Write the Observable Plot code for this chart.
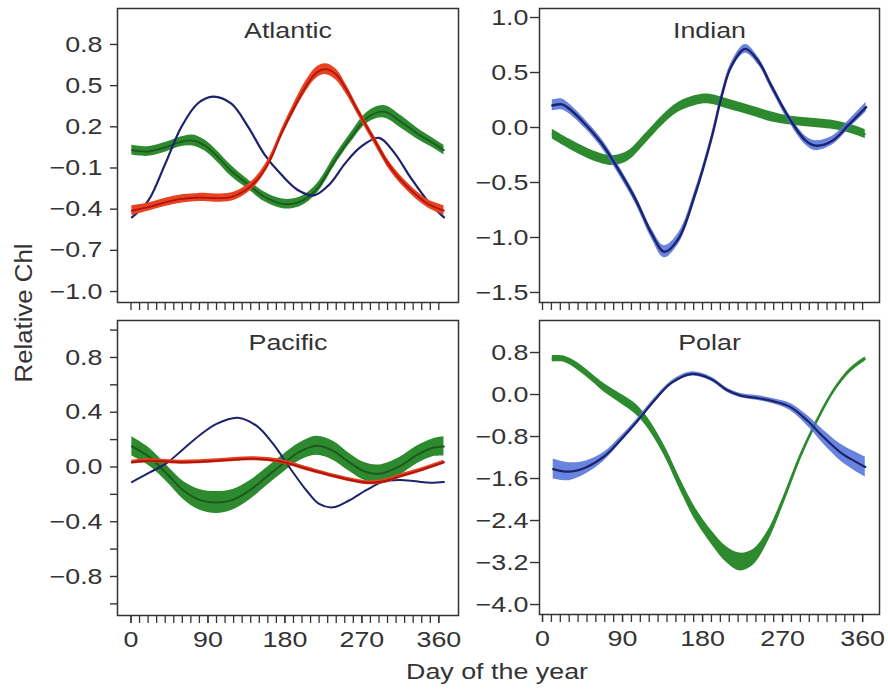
<!DOCTYPE html>
<html><head><meta charset="utf-8">
<script src="https://cdn.jsdelivr.net/npm/d3@7"></script>
<script src="https://cdn.jsdelivr.net/npm/@observablehq/plot@0.6"></script>
<style>
body{margin:0;background:#fff;}
#chart{position:relative;width:888px;height:691px;overflow:hidden;font-family:"Liberation Sans",Arial,Helvetica,sans-serif;color:#333;}
.panel{position:absolute;}
.lbl{position:absolute;font-size:22px;line-height:1;white-space:nowrap;color:#333;}
</style></head><body><div id="chart"></div>
<script>
// ---------- data ----------
const X_MINOR = d3.range(0, 361, 10);
const X_LABELS = [0, 90, 180, 270, 360];
const atlYTicks = [0.8, 0.5, 0.2, -0.1, -0.4, -0.7, -1.0];
const indYTicks = [1.0, 0.5, 0.0, -0.5, -1.0, -1.5];
const pacYTicks = [0.8, 0.4, 0.0, -0.4, -0.8];
const pacYMinor = [1.0, 0.6, 0.2, -0.2, -0.6, -1.0];
const polYTicks = [0.8, 0.0, -0.8, -1.6, -2.4, -3.2, -4.0];

// Atlantic
const atlBlueDay = [1,20,40,59,78,96,117,137,156,176,195,214,232,250,268,290,308,327,347,366];
const atlBlueVal = [-0.46,-0.34,-0.07,0.20,0.37,0.42,0.37,0.20,0.00,-0.15,-0.26,-0.30,-0.22,-0.07,0.05,0.12,0.01,-0.17,-0.34,-0.46];
const atlRedDay = [1,20,40,60,80,100,118,132,147,162,176,190,205,218,228,240,252,265,285,304,327,347,366];
const atlRedVal = [-0.41,-0.385,-0.35,-0.325,-0.315,-0.32,-0.31,-0.27,-0.19,-0.05,0.15,0.33,0.50,0.60,0.62,0.58,0.47,0.32,0.10,-0.10,-0.26,-0.36,-0.41];
const atlRedBand = [0.035,0.03,0.03,0.03,0.03,0.03,0.03,0.03,0.03,0.03,0.03,0.035,0.04,0.04,0.04,0.04,0.035,0.03,0.03,0.03,0.03,0.03,0.035];
const atlGreenDay = [1,20,40,58,72,86,100,117,137,156,176,190,203,219,238,257,277,296,316,335,355,366];
const atlGreenVal = [0.03,0.02,0.05,0.09,0.10,0.065,-0.01,-0.12,-0.22,-0.31,-0.36,-0.36,-0.33,-0.24,-0.05,0.12,0.27,0.31,0.235,0.15,0.075,0.03];
const atlGreenBand = [0.035,0.035,0.035,0.035,0.04,0.04,0.04,0.04,0.035,0.035,0.035,0.035,0.035,0.035,0.035,0.035,0.04,0.045,0.045,0.04,0.035,0.035];

// Indian
const indBlueDay = [11,22,30,48,67,86,105,123,137,153,172,190,202,212,228,243,258,277,296,307,326,345,364];
const indBlueVal = [0.20,0.21,0.17,0.03,-0.15,-0.39,-0.66,-0.97,-1.13,-1.01,-0.60,-0.10,0.30,0.55,0.715,0.60,0.37,0.09,-0.12,-0.165,-0.12,0.03,0.185];
const indBlueBand = [0.05,0.05,0.045,0.04,0.04,0.04,0.04,0.045,0.055,0.05,0.04,0.035,0.035,0.035,0.04,0.035,0.035,0.035,0.04,0.045,0.04,0.04,0.045];
const indGreenDay = [11,30,48,67,82,97,116,135,153,172,186,202,221,240,258,277,296,315,333,352,363];
const indGreenVal = [-0.06,-0.15,-0.225,-0.285,-0.30,-0.255,-0.10,0.065,0.185,0.245,0.26,0.23,0.185,0.14,0.095,0.065,0.048,0.034,0.015,-0.027,-0.06];
const indGreenBand = [0.045,0.045,0.045,0.045,0.045,0.045,0.045,0.045,0.045,0.045,0.045,0.045,0.045,0.045,0.045,0.04,0.04,0.04,0.04,0.04,0.04];

// Pacific
const pacBlueDay = [1,22,42,61,80,100,125,147,166,185,205,220,236,255,275,294,314,333,350,366];
const pacBlueVal = [-0.11,-0.04,0.03,0.13,0.23,0.315,0.36,0.30,0.17,0.00,-0.17,-0.27,-0.295,-0.245,-0.17,-0.11,-0.095,-0.105,-0.115,-0.11];
const pacRedDay = [1,22,60,100,140,165,182,218,257,278,296,316,335,366];
const pacRedVal = [0.035,0.045,0.035,0.045,0.06,0.05,0.03,-0.035,-0.095,-0.115,-0.105,-0.065,-0.03,0.035];
const pacRedBand = [0.015,0.015,0.015,0.015,0.015,0.015,0.015,0.015,0.015,0.015,0.015,0.015,0.015,0.015];
const pacGreenDay = [1,22,42,61,80,100,119,139,158,178,197,217,236,255,272,290,314,335,353,366];
const pacGreenVal = [0.15,0.07,-0.05,-0.17,-0.24,-0.26,-0.24,-0.17,-0.075,0.025,0.11,0.155,0.12,0.035,-0.03,-0.05,0.005,0.09,0.14,0.15];
const pacGreenBand = [0.07,0.065,0.06,0.065,0.075,0.08,0.075,0.07,0.065,0.065,0.065,0.07,0.07,0.065,0.065,0.065,0.065,0.065,0.065,0.07];

// Polar
const polGreenDay = [11,25,40,55,70,88,105,120,138,155,172,190,207,222,237,253,271,290,309,328,346,363];
const polGreenVal = [0.68,0.67,0.53,0.33,0.12,-0.08,-0.28,-0.58,-1.10,-1.72,-2.28,-2.72,-3.05,-3.19,-3.10,-2.72,-2.02,-1.19,-0.50,0.08,0.46,0.68];
const polGreenBand = [0.06,0.06,0.07,0.07,0.08,0.09,0.1,0.1,0.1,0.11,0.12,0.13,0.15,0.17,0.15,0.11,0.08,0.06,0.05,0.04,0.04,0.04];
const polBlueDay = [12,30,50,70,88,107,126,145,167,189,208,223,241,260,279,298,316,335,350,363];
const polBlueVal = [-1.42,-1.47,-1.38,-1.17,-0.86,-0.50,-0.11,0.22,0.39,0.30,0.08,-0.02,-0.065,-0.13,-0.24,-0.50,-0.81,-1.10,-1.26,-1.38];
const polBlueBand = [0.19,0.17,0.12,0.08,0.06,0.05,0.045,0.04,0.04,0.04,0.04,0.04,0.045,0.05,0.07,0.1,0.13,0.16,0.18,0.19];

// ---------- styling ----------
const BLUE_LINE = "#1c226c", BLUE_BAND = "#4e6fd8";
const GREEN_LINE = "#1c5a1e", GREEN_BAND = "#2e8a2e";
const RED_LINE = "#b0140f", RED_BAND = "#e8431f";
const TEXT_SCALE = 1.22;
const FONT = '"Liberation Sans", Arial, Helvetica, sans-serif';

function stretchText(svg, s) {
  svg.querySelectorAll("text").forEach(t => {
    if (!t.textContent) return;
    const tr = t.getAttribute("transform");
    if (tr) t.setAttribute("transform", tr + ` scale(${s},1)`);
    else {
      const x = +t.getAttribute("x") || 0, y = +t.getAttribute("y") || 0;
      t.setAttribute("transform", `translate(${x},${y}) scale(${s},1) translate(${-x},${-y})`);
    }
  });
}

function makePanel(cfg) {
  const marks = [];
  for (const s of cfg.series) {
    const rows = s.day.map((d, i) => ({
      day: d, v: s.val[i],
      lo: s.val[i] - (s.band ? s.band[i] : 0),
      hi: s.val[i] + (s.band ? s.band[i] : 0)
    }));
    if (s.band) marks.push(Plot.areaY(rows, {x: "day", y1: "lo", y2: "hi", fill: s.fill, fillOpacity: s.fillOpacity ?? 1, curve: "catmull-rom"}));
    marks.push(Plot.line(rows, {x: "day", y: "v", stroke: s.stroke, strokeWidth: s.width, curve: "catmull-rom"}));
  }
  marks.push(Plot.frame({stroke: "#333", strokeWidth: 1.5}));
  if (cfg.yMinor) marks.push(Plot.axisY(cfg.yMinor, {tickSize: cfg.tickSize, tickFormat: () => "", label: null, strokeWidth: 1.4}));
  marks.push(Plot.axisY(cfg.yTicks, {tickSize: cfg.tickSize, tickPadding: cfg.tickPadding, tickFormat: d3.format(".1f"), label: null, strokeWidth: 1.4, fontSize: 22}));
  marks.push(Plot.axisX(X_MINOR, {tickSize: 8, tickFormat: () => "", label: null, strokeWidth: 1.3}));
  if (cfg.xLabels) marks.push(Plot.axisX(X_LABELS, {tickSize: 8, tickPadding: 8, label: null, strokeWidth: 1.3, fontSize: 22}));
  marks.push(Plot.text([cfg.title], {frameAnchor: "top", dy: 22, lineAnchor: "middle", fontSize: 22, fill: "#333"}));

  const svg = Plot.plot({
    width: cfg.width, height: cfg.height,
    marginLeft: cfg.m[0], marginRight: cfg.m[1], marginTop: cfg.m[2], marginBottom: cfg.m[3],
    x: {domain: cfg.xDomain, label: null},
    y: {domain: cfg.yDomain, label: null},
    style: {fontFamily: FONT, fontSize: "22px", color: "#333", background: "transparent", overflow: "visible"},
    marks
  });
  stretchText(svg, TEXT_SCALE);
  const holder = document.createElement("div");
  holder.className = "panel";
  holder.style.left = cfg.left + "px";
  holder.style.top = cfg.top + "px";
  holder.appendChild(svg);
  document.getElementById("chart").appendChild(holder);
}

const LEFT_X = [-15.8, 383];
const RIGHT_X = [-3.4, 379];

makePanel({
  title: "Atlantic", left: 0, top: 0, width: 460, height: 318, m: [117, 2, 8, 16],
  xDomain: LEFT_X, yDomain: [-1.080, 1.062], yTicks: atlYTicks, tickSize: 7, tickPadding: 8, xLabels: false,
  series: [
    {day: atlGreenDay, val: atlGreenVal, band: atlGreenBand, fill: GREEN_BAND, stroke: GREEN_LINE, width: 1.8},
    {day: atlBlueDay, val: atlBlueVal, stroke: BLUE_LINE, width: 2.2},
    {day: atlRedDay, val: atlRedVal, band: atlRedBand, fill: RED_BAND, stroke: RED_LINE, width: 1.8}
  ]
});
makePanel({
  title: "Indian", left: 460, top: 0, width: 428, height: 318, m: [79, 9, 8, 16],
  xDomain: RIGHT_X, yDomain: [-1.591, 1.082], yTicks: indYTicks, tickSize: 9, tickPadding: 2, xLabels: false,
  series: [
    {day: indGreenDay, val: indGreenVal, band: indGreenBand, fill: GREEN_BAND, stroke: GREEN_BAND, width: 1.5},
    {day: indBlueDay, val: indBlueVal, band: indBlueBand, fill: BLUE_BAND, fillOpacity: 0.85, stroke: BLUE_LINE, width: 2.4}
  ]
});
makePanel({
  title: "Pacific", left: 0, top: 318, width: 460, height: 373, m: [117, 2, 2, 76],
  xDomain: LEFT_X, yDomain: [-1.085, 1.070], yTicks: pacYTicks, yMinor: pacYMinor, tickSize: 7, tickPadding: 8, xLabels: true,
  series: [
    {day: pacGreenDay, val: pacGreenVal, band: pacGreenBand, fill: GREEN_BAND, stroke: GREEN_LINE, width: 2},
    {day: pacBlueDay, val: pacBlueVal, stroke: BLUE_LINE, width: 2},
    {day: pacRedDay, val: pacRedVal, band: pacRedBand, fill: RED_BAND, stroke: RED_LINE, width: 2}
  ]
});
makePanel({
  title: "Polar", left: 460, top: 318, width: 428, height: 373, m: [79, 9, 2, 77],
  xDomain: RIGHT_X, yDomain: [-4.19, 1.41], yTicks: polYTicks, tickSize: 9, tickPadding: 2, xLabels: true,
  series: [
    {day: polGreenDay, val: polGreenVal, band: polGreenBand, fill: GREEN_BAND, stroke: GREEN_BAND, width: 1.5},
    {day: polBlueDay, val: polBlueVal, band: polBlueBand, fill: BLUE_BAND, fillOpacity: 0.85, stroke: BLUE_LINE, width: 2.2}
  ]
});

// shared axis titles
const chart = document.getElementById("chart");
const xl = document.createElement("div");
xl.className = "lbl";
xl.textContent = "Day of the year";
xl.style.left = "497px"; xl.style.top = "661px";
xl.style.transform = `translateX(-50%) scaleX(${TEXT_SCALE})`;
chart.appendChild(xl);
const yl = document.createElement("div");
yl.className = "lbl";
yl.textContent = "Relative Chl";
yl.style.fontSize = "23px";
yl.style.left = "24px"; yl.style.top = "313px";
yl.style.transform = "translate(-50%,-50%) rotate(-90deg) scaleX(1.12)";
chart.appendChild(yl);
</script></body></html>
